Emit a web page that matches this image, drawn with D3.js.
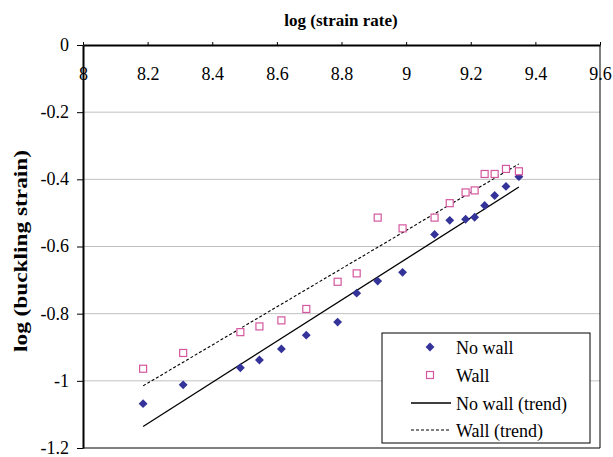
<!DOCTYPE html>
<html>
<head>
<meta charset="utf-8">
<script src="https://cdn.jsdelivr.net/npm/d3@7"></script>
<style>
  body { margin: 0; background: #fff; }
  svg { display: block; }
  svg text { font-family: "Liberation Serif", "Times New Roman", Times, serif; fill: #000; }
</style>
</head>
<body>
<svg id="chart" width="613" height="457"></svg>
<script>
// log(strain rate) for each test, shared by both series
const strainRate = [8.186, 8.310, 8.487, 8.546, 8.614, 8.691, 8.788, 8.847, 8.912,
                    8.989, 9.088, 9.135, 9.184, 9.212, 9.243, 9.274, 9.309, 9.349];
// log(buckling strain), specimens without a wall
const noWall = [-1.068, -1.012, -0.961, -0.938, -0.905, -0.864, -0.825, -0.739, -0.703,
                -0.677, -0.564, -0.522, -0.519, -0.513, -0.478, -0.448, -0.421, -0.392];
// log(buckling strain), specimens with a wall
const wall = [-0.964, -0.917, -0.855, -0.838, -0.820, -0.786, -0.705, -0.680, -0.514,
              -0.546, -0.514, -0.471, -0.439, -0.433, -0.384, -0.384, -0.369, -0.376];
// linear trend lines (end points)
const trendX = [8.186, 9.349];
const noWallTrend = [-1.136, -0.423];
const wallTrend = [-1.015, -0.354];

const xTicks = [8, 8.2, 8.4, 8.6, 8.8, 9, 9.2, 9.4, 9.6];
const yTicks = [0, -0.2, -0.4, -0.6, -0.8, -1, -1.2];
const legendLabels = ["No wall", "Wall", "No wall (trend)", "Wall (trend)"];

const navy = "#333399", pink = "#d4579f";

const svg = d3.select("#chart");
const x = d3.scaleLinear().domain([8, 9.6]).range([83, 600]);
const y = d3.scaleLinear().domain([0, -1.2]).range([45, 448]);
const fmt = d => String(+d.toFixed(1));

// horizontal gridlines
svg.append("g").selectAll("line").data(yTicks.slice(1, -1)).join("line")
  .attr("x1", x(8)).attr("x2", x(9.6))
  .attr("y1", d => y(d)).attr("y2", d => y(d))
  .attr("stroke", "#c0c0c0").attr("stroke-width", 1);

// plot area frame (right and bottom)
svg.append("path")
  .attr("d", `M${x(9.6)},${y(0)}V${y(-1.2)}H${x(8)}`)
  .attr("fill", "none").attr("stroke", "#000").attr("stroke-width", 1);

// trend lines
const line = d3.line().x(d => x(d[0])).y(d => y(d[1]));
svg.append("path").datum(d3.zip(trendX, noWallTrend)).attr("d", line)
  .attr("fill", "none").attr("stroke", "#000").attr("stroke-width", 1.3);
svg.append("path").datum(d3.zip(trendX, wallTrend)).attr("d", line)
  .attr("fill", "none").attr("stroke", "#000").attr("stroke-width", 1.1)
  .attr("stroke-dasharray", "3,2");

// markers
const diamond = d3.symbol().type(d3.symbolDiamond2).size(50);
svg.append("g").selectAll("path").data(d3.zip(strainRate, noWall)).join("path")
  .attr("d", diamond)
  .attr("transform", d => `translate(${x(d[0])},${y(d[1])})`)
  .attr("fill", navy);
svg.append("g").selectAll("rect").data(d3.zip(strainRate, wall)).join("rect")
  .attr("x", d => x(d[0]) - 3.5).attr("y", d => y(d[1]) - 3.5)
  .attr("width", 7).attr("height", 7)
  .attr("fill", "#fff").attr("stroke", pink).attr("stroke-width", 1.2);

// axes
const xAxis = svg.append("g").attr("transform", `translate(0,${y(0)})`)
  .call(d3.axisBottom(x).tickValues(xTicks).tickFormat(fmt).tickSize(-3).tickSizeOuter(0).tickPadding(22));
xAxis.select(".domain").attr("stroke-width", 2);
xAxis.selectAll("text").attr("font-size", 18);

const yAxis = svg.append("g").attr("transform", `translate(${x(8)},0)`)
  .call(d3.axisLeft(y).tickValues(yTicks).tickFormat(fmt).tickSize(6).tickSizeOuter(0).tickPadding(8));
yAxis.select(".domain").attr("stroke-width", 2);
yAxis.selectAll("text").attr("font-size", 18).attr("dy", "0.3em");

// titles
svg.append("text").attr("x", 341).attr("y", 26).attr("text-anchor", "middle")
  .attr("font-size", 17).attr("font-weight", "bold").text("log (strain rate)");
svg.append("text").attr("transform", "translate(27,251) rotate(-90)")
  .attr("text-anchor", "middle").attr("font-size", 19).attr("font-weight", "bold")
  .attr("textLength", 202).attr("lengthAdjust", "spacingAndGlyphs")
  .text("log (buckling strain)");

// legend
const lg = svg.append("g");
lg.append("rect").attr("x", 382).attr("y", 333).attr("width", 208).attr("height", 110)
  .attr("fill", "#fff").attr("stroke", "#000").attr("stroke-width", 1);
const rowY = [347, 375, 403, 430];
lg.append("path").attr("d", diamond).attr("transform", `translate(430,${rowY[0]})`).attr("fill", navy);
lg.append("rect").attr("x", 426.5).attr("y", rowY[1] - 3.5).attr("width", 7).attr("height", 7)
  .attr("fill", "#fff").attr("stroke", pink).attr("stroke-width", 1.2);
lg.append("line").attr("x1", 411).attr("x2", 451).attr("y1", rowY[2]).attr("y2", rowY[2])
  .attr("stroke", "#000").attr("stroke-width", 1.3);
lg.append("line").attr("x1", 411).attr("x2", 451).attr("y1", rowY[3]).attr("y2", rowY[3])
  .attr("stroke", "#000").attr("stroke-width", 1.1).attr("stroke-dasharray", "3,2");
lg.selectAll("text.lbl").data(legendLabels).join("text").attr("class", "lbl")
  .attr("x", 456).attr("y", (d, i) => rowY[i] + 7)
  .attr("font-size", 18).text(d => d);
</script>
</body>
</html>
